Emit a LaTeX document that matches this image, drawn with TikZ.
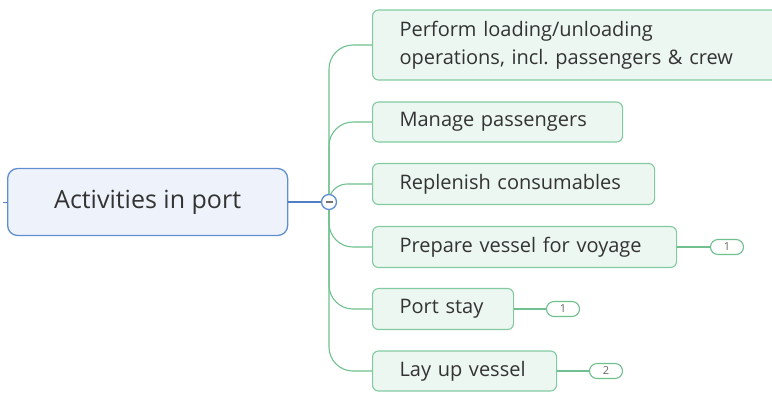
\documentclass[tikz,border=0pt]{standalone}
\usepackage{fontspec}
\setmainfont{Open Sans}
\usetikzlibrary{calc}
\frenchspacing
\definecolor{rootfill}{HTML}{EEF3FB}
\definecolor{rootdraw}{HTML}{5F8FD0}
\definecolor{kidfill}{HTML}{EDF7F1}
\definecolor{kiddraw}{HTML}{82CBA0}
\definecolor{linkgreen}{HTML}{6FC08E}
\definecolor{linkblue}{HTML}{4F7FC0}
\definecolor{txt}{HTML}{333333}
\tikzset{
  x=1pt,y=-1pt,
  rootbox/.style={draw=rootdraw,fill=rootfill,line width=1.3pt,rounded corners=10pt,
    anchor=west,minimum width=280pt,minimum height=67pt,inner sep=0pt,
    font=\fontsize{25}{28}\selectfont,text=txt},
  kidbox/.style={draw=kiddraw,fill=kidfill,line width=1.1pt,rounded corners=6pt,
    anchor=west,inner xsep=27pt,inner ysep=0pt,align=left,
    font=\fontsize{20}{28}\selectfont,text=txt},
  badge/.style={draw=linkgreen,fill=white,line width=1.1pt,rounded corners=7.5pt,
    minimum width=33pt,minimum height=15pt,inner sep=0pt,
    font=\fontsize{11}{12}\selectfont,text=black!60},
  link/.style={draw=linkgreen,line width=1.1pt,rounded corners=24pt},
}
\begin{document}
\begin{tikzpicture}
\useasboundingbox (0,0) rectangle (772,392);
\node[rootbox] (root) at (7,202) {Activities in port};
\coordinate (stub) at (3,202);
\draw[draw=linkblue,line width=1pt] (root.west) -- (stub);

\node[kidbox,text width=356pt,minimum height=70pt] (k1) at (372,45)
  {Perform loading/unloading\\operations, incl. passengers \& crew};
\node[kidbox,text width=196pt,minimum height=40pt] (k2) at (372,122) {Manage passengers};
\node[kidbox,text width=228pt,minimum height=41pt] (k3) at (372,184) {Replenish consumables};
\node[kidbox,text width=250pt,minimum height=41pt] (k4) at (372,247) {Prepare vessel for voyage};
\node[kidbox,text width=87pt,minimum height=41pt] (k5) at (372,309) {Port stay};
\node[kidbox,text width=130pt,minimum height=40pt] (k6) at (372,371) {Lay up vessel};

\node[badge] (b4) at (727,247) {1};
\node[badge] (b5) at (563,309) {1};
\node[badge] (b6) at (606,371) {2};

\coordinate (hub) at (329,202);
\draw[link] (hub) |- (k1.west);
\draw[link] (hub) |- (k2.west);
\draw[link,rounded corners=18pt] (hub) |- (k3.west);
\draw[link] (hub) |- (k4.west);
\draw[link] (hub) |- (k5.west);
\draw[link] (hub) |- (k6.west);

\draw[link] (k4.east) -- (b4.west);
\draw[link] (k5.east) -- (b5.west);
\draw[link] (k6.east) -- (b6.west);

\draw[draw=linkblue,line width=1.3pt] (root.east) -- (hub);
\node[circle,draw=rootdraw,fill=white,line width=1.3pt,minimum size=15pt,inner sep=0pt] (ctl) at (hub) {};
\fill[black!55] ($(ctl.center)+(-3.5,-1.2)$) rectangle ($(ctl.center)+(3.5,1.2)$);
\end{tikzpicture}
\end{document}
